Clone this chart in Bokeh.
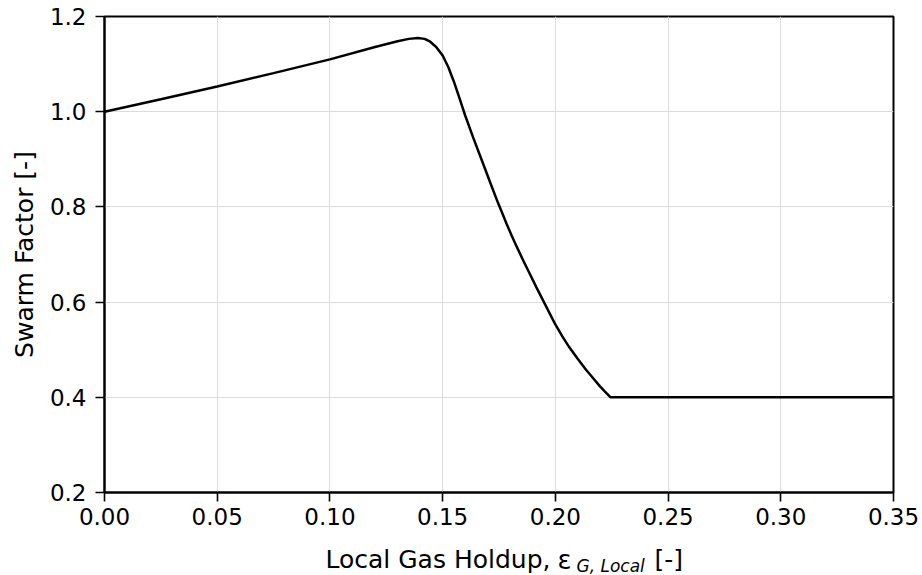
from bokeh.plotting import figure
from bokeh.models import Range1d, FixedTicker, NumeralTickFormatter, Label
from bokeh.layouts import column
from bokeh.embed import file_html
from bokeh.resources import INLINE

# Data
holdup = [0.0, 0.025, 0.05, 0.075, 0.10, 0.12, 0.13, 0.135, 0.139, 0.142, 0.1445,
          0.1473, 0.150, 0.1525, 0.155, 0.1575, 0.160, 0.1636, 0.168, 0.1724,
          0.1746, 0.1766, 0.1783, 0.1806, 0.1828, 0.1857, 0.1887, 0.1916, 0.1946,
          0.1973, 0.200, 0.2031, 0.2062, 0.2099, 0.2136, 0.2166, 0.2196, 0.2220,
          0.2245, 0.35]
swarm_factor = [1.0, 1.026, 1.053, 1.081, 1.110, 1.136, 1.148, 1.153, 1.155, 1.153, 1.147,
                1.135, 1.118, 1.094, 1.063, 1.028, 0.992, 0.945, 0.890, 0.835,
                0.808, 0.785, 0.765, 0.740, 0.717, 0.688, 0.659, 0.631, 0.603,
                0.578, 0.553, 0.528, 0.505, 0.481, 0.458, 0.441, 0.424, 0.412,
                0.400, 0.400]
x_ticks = [0.0, 0.05, 0.10, 0.15, 0.20, 0.25, 0.30, 0.35]
y_ticks = [0.2, 0.4, 0.6, 0.8, 1.0, 1.2]

FONT = "DejaVu Sans"

p = figure(width=922, height=540, x_range=Range1d(0, 0.35), y_range=Range1d(0.2, 1.2),
           output_backend="svg", toolbar_location=None,
           min_border_left=104, min_border_right=29, min_border_top=16, min_border_bottom=48)
p.background_fill_color = "white"
p.border_fill_color = "white"
p.outline_line_color = "black"
p.outline_line_width = 2
p.outline_line_alpha = 1

p.line(holdup, swarm_factor, line_color="black", line_width=2.5)

for ax in (p.xaxis[0], p.yaxis[0]):
    ax.axis_line_color = "black"
    ax.axis_line_width = 2
    ax.major_tick_line_color = "black"
    ax.major_tick_line_width = 1.6
    ax.major_tick_out = 9
    ax.major_tick_in = 0
    ax.minor_tick_line_color = None
    ax.major_label_text_font = FONT
    ax.major_label_text_font_size = "23px"
    ax.major_label_text_color = "black"
    ax.major_label_standoff = 9

p.xaxis.ticker = FixedTicker(ticks=x_ticks)
p.xaxis.formatter = NumeralTickFormatter(format="0.00")
p.yaxis.ticker = FixedTicker(ticks=y_ticks)
p.yaxis.formatter = NumeralTickFormatter(format="0.0")
p.xaxis.major_label_standoff = 6

p.yaxis.axis_label = "Swarm Factor [-]"
p.yaxis.axis_label_text_font = FONT
p.yaxis.axis_label_text_font_size = "25px"
p.yaxis.axis_label_text_font_style = "normal"
p.yaxis.axis_label_text_color = "black"
p.yaxis.axis_label_standoff = 8

p.xgrid.ticker = FixedTicker(ticks=x_ticks)
p.ygrid.ticker = FixedTicker(ticks=y_ticks)
p.grid.grid_line_color = "#dcdcdc"
p.grid.grid_line_width = 1

# Strip below the chart that carries the x-axis label with its subscript
lab = figure(width=922, height=35, x_range=Range1d(0, 1), y_range=Range1d(0, 1),
             output_backend="svg", toolbar_location=None,
             x_axis_location=None, y_axis_location=None,
             min_border_left=0, min_border_right=0, min_border_top=0, min_border_bottom=0)
lab.outline_line_color = None
lab.grid.visible = False
lab.background_fill_color = "white"
lab.border_fill_color = "white"

def add_text(x, y, text, size, style="normal"):
    lab.add_layout(Label(x=x, y=y, x_units="screen", y_units="screen", text=text,
                         text_font=FONT, text_font_size=size, text_font_style=style,
                         text_color="black", text_align="left", text_baseline="alphabetic"))

add_text(221, 16, "Local Gas Holdup,", "25px")
add_text(453, 16, "ε", "26px")
add_text(472, 10, "G, Local", "17px", "italic")
add_text(550, 16, "[-]", "25px")

open("out.html", "w").write(file_html(column(p, lab), INLINE))
